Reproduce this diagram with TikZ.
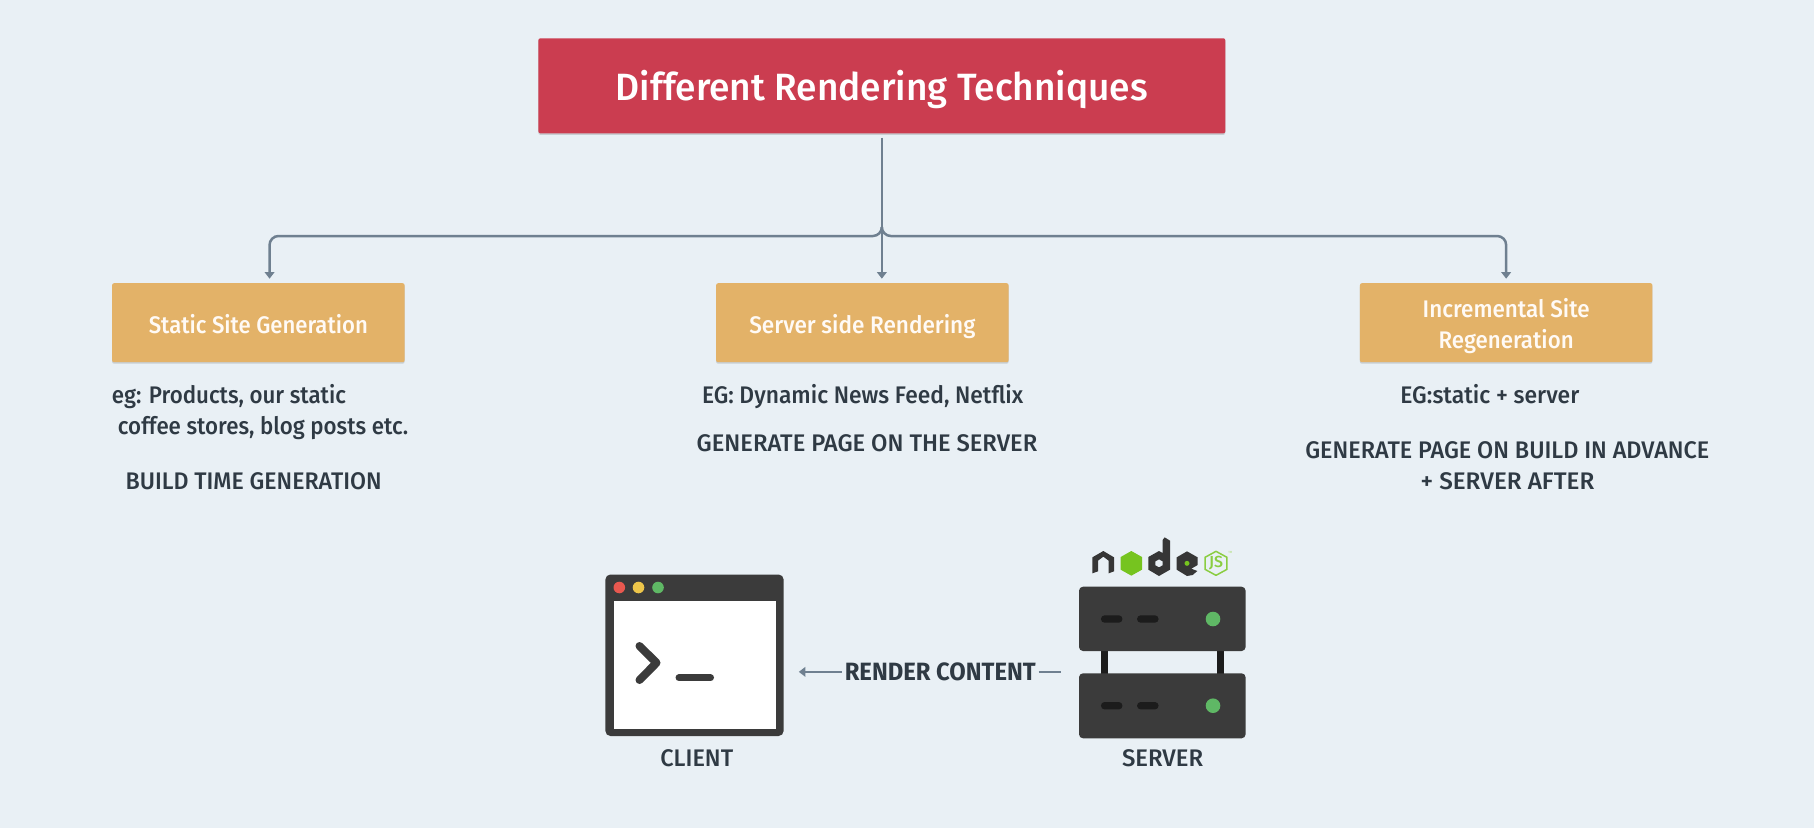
\documentclass[tikz,border=0pt]{standalone}
\usepackage{fontspec}
\usepackage{graphicx}
\setmainfont{Fira Sans}[UprightFont=* Medium,BoldFont=* Bold]
\usetikzlibrary{arrows.meta,shadows,calc}
\definecolor{bgc}{HTML}{E9F0F5}
\definecolor{redc}{HTML}{CB3D50}
\definecolor{orc}{HTML}{E3B268}
\definecolor{txc}{HTML}{2F3A44}
\definecolor{linec}{HTML}{6F8090}
\definecolor{dk}{HTML}{3B3B3B}
\definecolor{blk}{HTML}{1C1C1C}
\definecolor{grn}{HTML}{5FB865}
\definecolor{nodegrn}{HTML}{76C41F}
\definecolor{dotred}{HTML}{E8584F}
\definecolor{dotyel}{HTML}{EDC54A}
\newcommand{\fitw}[2]{\resizebox{#1pt}{\height}{#2}}
\tikzset{
  softshadow/.style={general shadow={fill=black,opacity=.14,shadow yshift=-1.5pt}},
  titlebox/.style={fill=redc,text=white,rounded corners=2pt,minimum width=687pt,minimum height=95pt,inner sep=0pt,softshadow,text height=29.5pt,text depth=0pt,font=\fontsize{38}{40}\selectfont},
  orbox/.style={fill=orc,text=white!96!orange,rounded corners=2pt,minimum width=292.5pt,minimum height=79pt,inner sep=0pt,softshadow,font=\fontsize{24}{31.6}\selectfont},
  lab/.style={anchor=base,inner sep=0pt,text=txc,font=\fontsize{24}{28}\selectfont},
  conn/.style={draw=linec,line width=2.5pt},
  tip/.style={-{Triangle[width=9.5pt,length=6.5pt]}},
  srv/.style={fill=dk,rounded corners=4pt,minimum width=166.6pt,inner sep=0pt},
  ledd/.style={fill=grn,circle,minimum size=14.6pt,inner sep=0pt},
  slot/.style={fill=blk,rounded corners=3.6pt,minimum width=21.5pt,minimum height=7.4pt,inner sep=0pt},
  dot/.style={circle,minimum size=11.6pt,inner sep=0pt},
  logodark/.style={fill=dk!92!black},
}
\begin{document}
\begin{tikzpicture}[x=1pt,y=-1pt]
\useasboundingbox (0,0) rectangle (1814,828);
\fill[bgc] (0,0) rectangle (1814,828);

% boxes
\node[titlebox] (title) at (881.85,85.8) {\fitw{532}{Different Rendering Techniques}};
\node[orbox,text height=20.8pt,text depth=0pt] (ssg) at (258.35,322.7) {\fitw{219}{Static Site Generation}};
\node[orbox,text height=20.8pt,text depth=0pt] (ssr) at (862.35,322.7) {\fitw{226}{Server side Rendering}};
\node[orbox,align=center,text height=51.8pt,text depth=0pt] (isr) at (1506.15,322.7) {\fitw{167}{Incremental Site}\\\fitw{135}{Regeneration}};

% connectors
\coordinate (junction) at (881.85,236);
\coordinate (trunk) at (881.85,227);
\draw[conn,tip] ([yshift=-4pt]title.south) -- ([xshift=19.5pt,yshift=4.3pt]ssr.north);
\draw[conn,tip,rounded corners=9pt] (trunk) -- (junction) -- ([xshift=11.2pt]ssg.north |- junction) -- ([xshift=11.2pt,yshift=4.3pt]ssg.north);
\draw[conn,tip,rounded corners=9pt] (trunk) -- (junction) -- (isr.north |- junction) -- ([yshift=4.3pt]isr.north);

% captions
\node[lab] (a1) at (229,403.5) {\fitw{234}{eg: Products, our static}};
\node[lab] (a2) at (263.15,434.5) {\fitw{290.3}{coffee stores, blog posts etc.}};
\node[lab] (a3) at (253.7,489.9) {\fitw{256}{BUILD TIME GENERATION}};
\node[lab] (b1) at (862.65,403.5) {\fitw{321.3}{EG: Dynamic News Feed, Netflix}};
\node[lab] (b2) at (867,451.2) {\fitw{340.6}{GENERATE PAGE ON THE SERVER}};
\node[lab] (c1) at (1489.8,403.2) {\fitw{179}{EG:static + server}};
\node[lab] (c2) at (1507.3,458.2) {\fitw{404}{GENERATE PAGE ON BUILD IN ADVANCE}};
\node[lab] (c3) at (1507.5,489.5) {\fitw{173.6}{+ SERVER AFTER}};

% client window
\node[fill=dk,rounded corners=5pt,minimum width=178.2pt,minimum height=161.5pt,inner sep=0pt] (client) at (694.5,655.25) {};
\node[fill=white,minimum width=162pt,minimum height=128pt,inner sep=0pt] (screen) at (694.5,665) {};
\node[dot,fill=dotred] (d1) at (619.3,587.5) {};
\node[dot,fill=dotyel] (d2) at (638.5,587.5) {};
\node[dot,fill=grn] (d3) at (658,587.5) {};
\draw[dk,line width=8pt,line cap=round,line join=round] (639.5,646) -- (656.5,662.8) -- (639.5,680);
\draw[dk,line width=7pt,line cap=round] (679,677.8) -- (710.5,677.8);
\node[lab] (clientlab) at (696.8,766.7) {\fitw{72.8}{CLIENT}};

% server
\fill[blk] (1101,648) rectangle (1108,676);
\fill[blk] (1216.5,648) rectangle (1223.5,676);
\node[srv,minimum height=64.3pt] (srv1) at (1162.3,618.85) {};
\node[srv,minimum height=65pt] (srv2) at (1162.3,705.8) {};
\node[slot] (s1) at (1111.7,619) {};
\node[slot] (s2) at (1147.8,619) {};
\node[ledd] (l1) at (1213,619) {};
\node[slot] (s3) at (1111.7,705.7) {};
\node[slot] (s4) at (1147.8,705.7) {};
\node[ledd] (l2) at (1213,705.7) {};
\node[lab] (serverlab) at (1162.6,766.7) {\fitw{81.2}{SERVER}};

% render label and arrow
\node[lab,font=\fontsize{25}{28}\selectfont\bfseries] (render) at (940.25,680.5) {\fitw{191}{RENDER CONTENT}};
\draw[conn,tip,shorten <=2.7pt,shorten >=15pt] (render.west) -- (render.west -| client.east);
\draw[conn,shorten <=2.7pt,shorten >=18pt] (render.east) -- (render.east -| srv2.west);

% node.js logo (coordinates in 1/3 px)
\begin{scope}[shift={(1060,520)},x=0.3333pt,y=-0.3333pt]
  \fill[logodark] (97,112) -- (130,93) -- (162,112) -- (162,154) -- (146,160) -- (146,122) -- (130,110) -- (114,122) -- (114,154) -- (97,160) -- cycle;
  \fill[nodegrn] (214,93) -- (246,111) -- (246,149) -- (214,167) -- (182,149) -- (182,111) -- cycle;
  \fill[logodark,even odd rule] (265,111) -- (297,93) -- (308,99) -- (308,60) -- (314,52) -- (330,62) -- (330,149) -- (297,168) -- (265,149) -- cycle
     (297,118) -- (308,124) -- (308,136) -- (297,142) -- (286,136) -- (286,124) -- cycle;
  \fill[logodark] (350,112) -- (381,94) -- (413,112) -- (413,135) -- (394,146) -- (412,153) -- (398,165) -- (381,168) -- (350,149) -- cycle;
  \fill[nodegrn] (381,130) circle[radius=7.5];
  \draw[nodegrn!85!white,line width=1.5pt,line join=round] (468,94) -- (501,112) -- (501,148) -- (468,166) -- (435,148) -- (435,112) -- cycle;
  \node[inner sep=0pt,text=nodegrn!85!white,font=\fontsize{16}{16}\selectfont] (js) at (468,130) {JS};
  \node[inner sep=0pt,text=nodegrn!50!white,font=\fontsize{3}{3}\selectfont] (tm) at (511,97) {TM};
\end{scope}
\end{tikzpicture}
\end{document}
